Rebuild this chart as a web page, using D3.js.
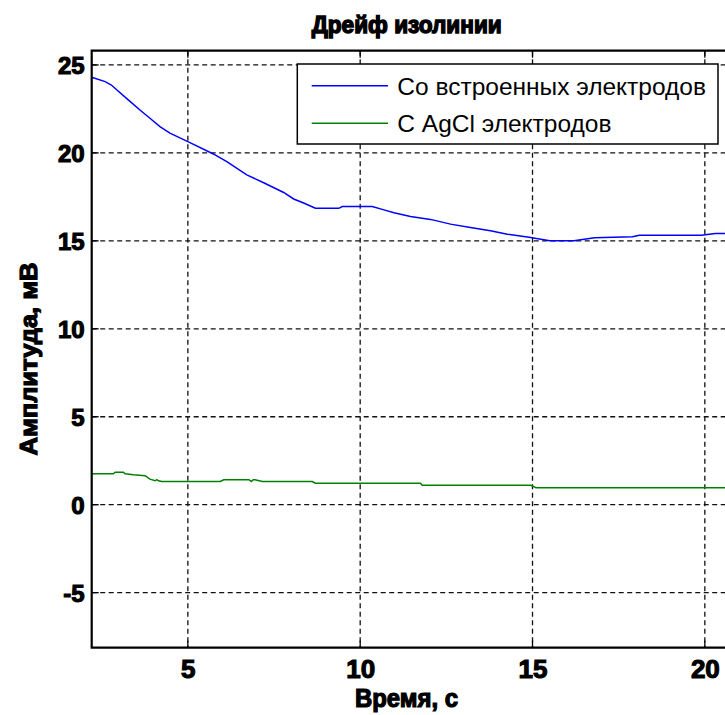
<!DOCTYPE html>
<html>
<head>
<meta charset="utf-8">
<script src="https://cdn.jsdelivr.net/npm/d3@7"></script>
<style>
  html, body { margin: 0; padding: 0; background: #fff; }
  svg { display: block; }
</style>
</head>
<body>
<script>
// ---------------- data ----------------
const titleText = "Дрейф изолинии";
const xLabelText = "Время, с";
const yLabelText = "Амплитуда, мВ";
const seriesNames = ["Со встроенных электродов", "С AgCl электродов"];
const seriesColors = ["#0000ff", "#008000"];

const xTicks = [5, 10, 15, 20];
const yTicks = [-5, 0, 5, 10, 15, 20, 25];
const xLimits = [2.21, 20.73];
const yLimits = [-8.13, 25.81];

const timeBlue = [2.21, 2.6, 2.78, 3.22, 3.61, 3.9, 4.19, 4.48, 5.0, 5.74, 6.13, 6.71, 7.2, 7.78, 8.07, 8.36, 8.7, 9.38, 9.48, 10.35, 10.69, 10.98, 11.46, 12.04, 12.62, 13.2, 13.78, 14.27, 14.9, 15.5, 16.2, 16.8, 17.9, 18.1, 19.9, 20.3, 20.73];
const ampBlue  = [24.30, 24.05, 23.86, 23.1, 22.44, 21.97, 21.49, 21.12, 20.64, 19.94, 19.5, 18.75, 18.3, 17.75, 17.38, 17.15, 16.85, 16.85, 16.95, 16.95, 16.76, 16.6, 16.38, 16.22, 15.95, 15.76, 15.57, 15.38, 15.2, 15.0, 15.0, 15.17, 15.23, 15.32, 15.32, 15.42, 15.42];

const timeGreen = [2.21, 2.84, 2.89, 3.13, 3.18, 3.42, 3.76, 3.9, 4.05, 4.1, 4.15, 4.24, 5.94, 6.04, 6.77, 6.84, 6.9, 6.95, 7.16, 8.61, 8.7, 11.75, 11.8, 14.95, 15.1, 20.73];
const ampGreen  = [1.76, 1.76, 1.85, 1.85, 1.76, 1.70, 1.65, 1.45, 1.36, 1.42, 1.36, 1.32, 1.32, 1.42, 1.42, 1.32, 1.42, 1.42, 1.32, 1.32, 1.22, 1.22, 1.10, 1.10, 0.97, 0.97];

// ---------------- layout ----------------
const W = 725, H = 715;
const plot = { left: 91.7, top: 50.7, right: 730, bottom: 647.7 };
const tickFont = '"Liberation Sans Narrow", "Arial Narrow", "Liberation Sans", Arial, sans-serif';

const svg = d3.select("body").append("svg").attr("width", W).attr("height", H)
  .style("overflow", "hidden");

const x = d3.scaleLinear().domain(xLimits).range([plot.left, plot.right]);
const y = d3.scaleLinear().domain(yLimits).range([plot.bottom, plot.top]);

// gridlines
const grid = svg.append("g");
grid.selectAll("line.gx").data(xTicks).join("line")
  .attr("x1", d => x(d)).attr("x2", d => x(d))
  .attr("y1", plot.top).attr("y2", plot.bottom)
  .attr("stroke", "#111").attr("stroke-width", 1.3).attr("stroke-dasharray", "5,3.5");
grid.selectAll("line.gy").data(yTicks).join("line")
  .attr("y1", d => y(d)).attr("y2", d => y(d))
  .attr("x1", plot.left).attr("x2", plot.right)
  .attr("stroke", "#111").attr("stroke-width", 1.3).attr("stroke-dasharray", "5,3.5");

// inner ticks
const tk = svg.append("g").attr("stroke", "#000").attr("stroke-width", 1.3);
xTicks.forEach(t => {
  tk.append("line").attr("x1", x(t)).attr("x2", x(t)).attr("y1", plot.bottom).attr("y2", plot.bottom - 7);
  tk.append("line").attr("x1", x(t)).attr("x2", x(t)).attr("y1", plot.top).attr("y2", plot.top + 7);
});
yTicks.forEach(t => {
  tk.append("line").attr("y1", y(t)).attr("y2", y(t)).attr("x1", plot.left).attr("x2", plot.left + 7);
});

// lines
const line = d3.line().x(d => x(d[0])).y(d => y(d[1]));
const series = [
  d3.zip(timeBlue, ampBlue),
  d3.zip(timeGreen, ampGreen)
];
svg.append("defs").append("clipPath").attr("id", "clip")
  .append("rect").attr("x", plot.left).attr("y", plot.top)
  .attr("width", plot.right - plot.left).attr("height", plot.bottom - plot.top);
svg.append("g").attr("clip-path", "url(#clip)")
  .selectAll("path").data(series).join("path")
  .attr("d", line).attr("fill", "none")
  .attr("stroke", (d, i) => seriesColors[i]).attr("stroke-width", 1.5);

// frame
const fr = svg.append("g").attr("stroke", "#000").attr("stroke-width", 2.2).attr("fill", "none");
fr.append("path").attr("d", `M${plot.right},${plot.top}H${plot.left}V${plot.bottom}H${plot.right}`);

// axes labels via d3 axes
const xAxis = d3.axisBottom(x).tickValues(xTicks).tickSize(0).tickPadding(0).tickFormat(d => String(d));
const gx = svg.append("g").attr("transform", `translate(0,${plot.bottom})`).call(xAxis);
gx.select(".domain").remove();
gx.selectAll("text")
  .attr("y", 30).attr("dy", null)
  .style("font-family", tickFont).style("font-weight", "bold").style("font-size", "26px")
  .attr("fill", "#000").attr("stroke", "#000").attr("stroke-width", 1.1);

const yAxis = d3.axisLeft(y).tickValues(yTicks).tickSize(0).tickPadding(0).tickFormat(d => String(d));
const gy = svg.append("g").attr("transform", `translate(${plot.left - 7},0)`).call(yAxis);
gy.select(".domain").remove();
gy.selectAll("text")
  .attr("dy", "0.36em")
  .style("font-family", tickFont).style("font-weight", "bold").style("font-size", "24px")
  .attr("fill", "#000").attr("stroke", "#000").attr("stroke-width", 1.1);

// title
svg.append("text").attr("x", 406.7).attr("y", 33)
  .attr("text-anchor", "middle")
  .attr("textLength", 190).attr("lengthAdjust", "spacingAndGlyphs")
  .style("font-family", tickFont).style("font-weight", "bold").style("font-size", "23px")
  .attr("fill", "#000").attr("stroke", "#000").attr("stroke-width", 1.4)
  .text(titleText);

// x label
svg.append("text").attr("x", 406.5).attr("y", 707)
  .attr("text-anchor", "middle")
  .attr("textLength", 103).attr("lengthAdjust", "spacingAndGlyphs")
  .style("font-family", tickFont).style("font-weight", "bold").style("font-size", "25px")
  .attr("fill", "#000").attr("stroke", "#000").attr("stroke-width", 1.2)
  .text(xLabelText);

// y label
svg.append("text")
  .attr("transform", `translate(37,359) rotate(-90)`)
  .attr("text-anchor", "middle")
  .attr("textLength", 193).attr("lengthAdjust", "spacingAndGlyphs")
  .style("font-family", tickFont).style("font-weight", "bold").style("font-size", "24px")
  .attr("fill", "#000").attr("stroke", "#000").attr("stroke-width", 1.2)
  .text(yLabelText);

// legend
const leg = { x0: 297.3, y0: 64, x1: 718, y1: 144 };
const lg = svg.append("g");
lg.append("rect").attr("x", leg.x0).attr("y", leg.y0)
  .attr("width", leg.x1 - leg.x0).attr("height", leg.y1 - leg.y0)
  .attr("fill", "#fff").attr("stroke", "#000").attr("stroke-width", 1.5);
const legRows = [85.7, 123.3];
seriesNames.forEach((name, i) => {
  lg.append("line").attr("x1", 311.7).attr("x2", 388)
    .attr("y1", legRows[i]).attr("y2", legRows[i])
    .attr("stroke", seriesColors[i]).attr("stroke-width", 1.5);
  lg.append("text").attr("x", 397.3).attr("y", legRows[i]).attr("dy", "0.36em")
    .style("font-family", tickFont).style("font-size", "24.5px")
    .attr("fill", "#000")
    .text(name);
});
</script>
</body>
</html>
